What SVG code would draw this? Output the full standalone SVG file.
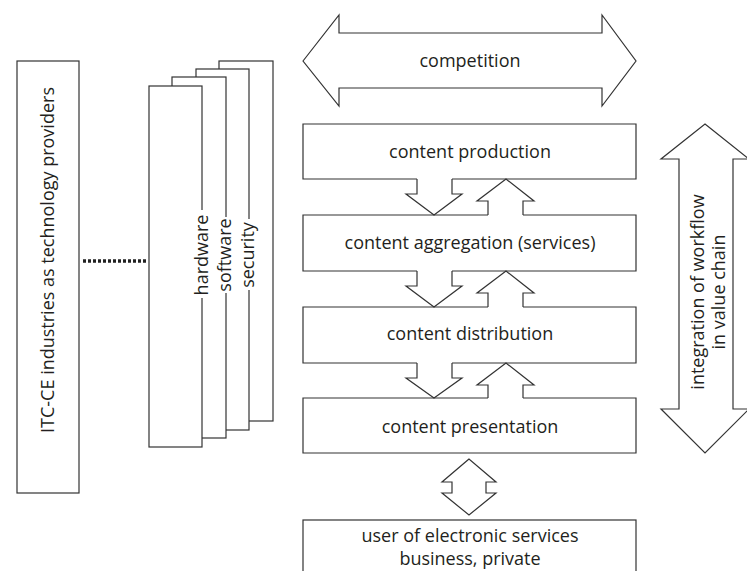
<svg xmlns="http://www.w3.org/2000/svg" width="747" height="571" viewBox="0 0 747 571">
<style>
.s{fill:#fff;stroke:#333;stroke-width:1.2}
.l{fill:none;stroke:#333;stroke-width:1.2}
.t{font-family:"Open Sans","Noto Sans",sans-serif;font-size:18px;fill:#231f20;text-anchor:middle}
</style>
<rect width="747" height="571" fill="#fff"/>
<g id="itc">
<rect class="s" x="17" y="61" width="62" height="432"/>
<text class="t" transform="translate(54,260) rotate(-90)">ITC-CE industries as technology providers</text>
</g>
<g id="layer4">
<rect class="s" x="219" y="61" width="54" height="360"/>
</g>
<g id="security">
<rect class="s" x="196" y="69" width="53" height="361"/>
<rect x="246" y="219" width="6" height="71" fill="#fff"/>
<text class="t" transform="translate(254,255) rotate(-90)">security</text>
</g>
<g id="software">
<rect class="s" x="172" y="77" width="54" height="361"/>
<rect x="223" y="217" width="6" height="76" fill="#fff"/>
<text class="t" transform="translate(231,255) rotate(-90)">software</text>
</g>
<g id="hardware">
<rect class="s" x="149" y="86" width="53" height="361"/>
<rect x="199" y="210" width="6" height="88" fill="#fff"/>
<text class="t" transform="translate(207.5,255) rotate(-90)">hardware</text>
</g>
<g id="competition">
<polygon class="s" points="303,61 339,15 339,33 602,33 602,15 636,61 602,106 602,88 339,88 339,106"/>
<text class="t" x="470" y="67">competition</text>
</g>
<g id="production">
<path class="l" d="M417,179 H303 V124 H636 V179 H452"/>
<text class="t" x="470" y="158">content production</text>
</g>
<g id="aggregation">
<path class="l" d="M488,215 H303 V271 H417 M452,271 H636 V215 H523"/>
<text class="t" x="470" y="249">content aggregation (services)</text>
</g>
<g id="distribution">
<path class="l" d="M488,307 H303 V363 H417 M452,363 H636 V307 H523"/>
<text class="t" x="470" y="340">content distribution</text>
</g>
<g id="presentation">
<path class="l" d="M488,398 H303 V453 H636 V398 H523"/>
<text class="t" x="470" y="433">content presentation</text>
</g>
<g id="user">
<rect class="s" x="303" y="520" width="333" height="70"/>
<text class="t" x="470" y="542">user of electronic services</text>
<text class="t" x="470" y="565">business, private</text>
</g>
<g id="integration">
<polygon class="s" points="705,124 749,159 733,159 733,409 749,409 705,453 661,409 679,409 679,159 661,159"/>
<text class="t" transform="translate(704,292) rotate(-90)">integration of workflow</text>
<text class="t" transform="translate(725,292) rotate(-90)">in value chain</text>
</g>
<g id="connectors">
<line x1="83" y1="261" x2="147" y2="261" stroke="#222" stroke-width="3.5" stroke-dasharray="3,2"/>
<polyline class="l" points="417,179 417,194 406,194 434,215 462,194 452,194 452,179"/>
<polyline class="l" points="488,215 488,201 477,201 506,179 534,201 523,201 523,215"/>
<polyline class="l" points="417,271 417,286 406,286 434,307 462,286 452,286 452,271"/>
<polyline class="l" points="488,307 488,293 477,293 506,271 534,293 523,293 523,307"/>
<polyline class="l" points="417,363 417,378 406,378 434,398 462,378 452,378 452,363"/>
<polyline class="l" points="488,398 488,385 477,385 506,363 534,385 523,385 523,398"/>
<polygon class="s" points="469,459 442,482 452,482 452,493 442,493 469,515 496,493 486,493 486,482 496,482"/>
</g>
</svg>
